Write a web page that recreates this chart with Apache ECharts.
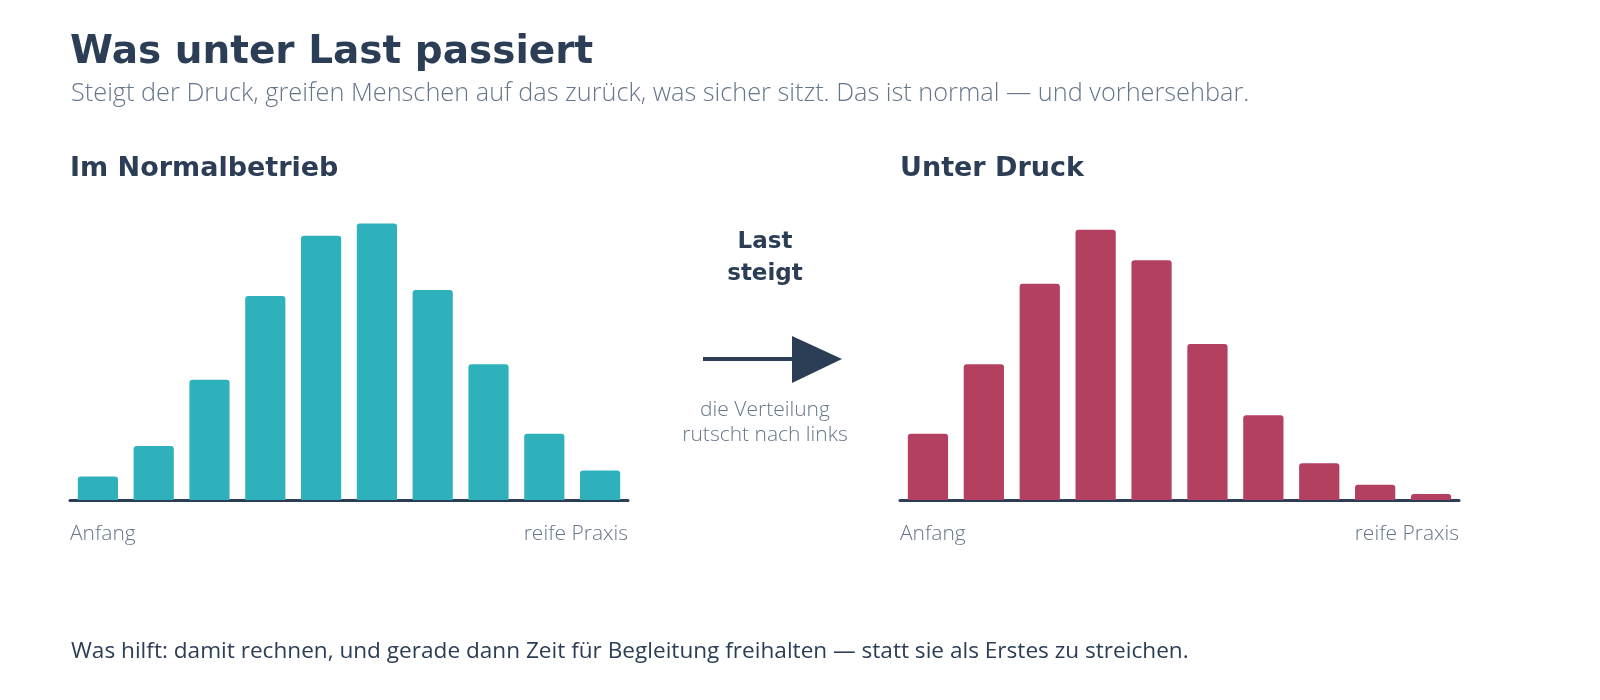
<!DOCTYPE html>
<html>
<head>
<meta charset="utf-8">
<title>Was unter Last passiert</title>
<script src="https://cdn.jsdelivr.net/npm/echarts@6/dist/echarts.min.js"></script>
<style>
  html, body { margin: 0; padding: 0; background: #fff; }
  #chart { width: 1600px; height: 700px; }
</style>
</head>
<body>
<div id="chart"></div>
<script>
// Stufen von "Anfang" bis "reife Praxis"
const stages = ['1', '2', '3', '4', '5', '6', '7', '8', '9', '10'];
const normalValues = [23, 53, 118, 200, 259, 271, 206, 133, 65, 29];
const pressureValues = [65, 133, 212, 265, 235, 153, 83, 36, 15, 6];
const axisEnds = ['Anfang', 'reife Praxis'];

const navy = '#2c3e55';
const grey = '#66768a';
const fontHead = '"DejaVu Sans", sans-serif';
const fontBody = '"Open Sans", sans-serif';

const chart = echarts.init(document.getElementById('chart'));

function xAxisFor(gridIndex) {
  return {
    type: 'category',
    gridIndex: gridIndex,
    data: stages,
    axisLine: { lineStyle: { color: navy, width: 3 } },
    axisTick: { show: false },
    axisLabel: { show: false }
  };
}

function yAxisFor(gridIndex) {
  return {
    type: 'value',
    gridIndex: gridIndex,
    min: 0,
    max: 300,
    show: false
  };
}

function endLabels(left, right) {
  return [
    { type: 'text', x: left, y: 524,
      style: { text: axisEnds[0], fill: grey, font: '300 21px ' + fontBody,
               textAlign: 'left', textVerticalAlign: 'top' } },
    { type: 'text', x: right, y: 524,
      style: { text: axisEnds[1], fill: grey, font: '300 21px ' + fontBody,
               textAlign: 'right', textVerticalAlign: 'top' } }
  ];
}

const options = {
  animation: false,
  title: [
    { text: 'Was unter Last passiert', left: 65, top: 28,
      textStyle: { color: navy, fontFamily: fontHead, fontWeight: 'bold', fontSize: 39 } },
    { text: 'Steigt der Druck, greifen Menschen auf das zurück, was sicher sitzt. Das ist normal — und vorhersehbar.',
      left: 66, top: 76,
      textStyle: { color: grey, fontFamily: fontBody, fontWeight: 300, fontSize: 25.3 } },
    { text: 'Im Normalbetrieb', left: 65, top: 150,
      textStyle: { color: navy, fontFamily: fontHead, fontWeight: 'bold', fontSize: 27 } },
    { text: 'Unter Druck', left: 895, top: 150,
      textStyle: { color: navy, fontFamily: fontHead, fontWeight: 'bold', fontSize: 27 } },
    { text: 'Was hilft: damit rechnen, und gerade dann Zeit für Begleitung freihalten — statt sie als Erstes zu streichen.',
      left: 66, top: 635,
      textStyle: { color: navy, fontFamily: fontBody, fontWeight: 'normal', fontSize: 22.6 } }
  ],
  grid: [
    { left: 70, width: 558, top: 194, height: 306 },
    { left: 900, width: 559, top: 194, height: 306 }
  ],
  xAxis: [xAxisFor(0), xAxisFor(1)],
  yAxis: [yAxisFor(0), yAxisFor(1)],
  series: [
    {
      type: 'bar', name: 'Im Normalbetrieb',
      xAxisIndex: 0, yAxisIndex: 0,
      data: normalValues,
      barCategoryGap: '28%',
      itemStyle: { color: '#2fb1bb', borderRadius: [3, 3, 0, 0] }
    },
    {
      type: 'bar', name: 'Unter Druck',
      xAxisIndex: 1, yAxisIndex: 1,
      data: pressureValues,
      barCategoryGap: '28%',
      itemStyle: { color: '#b34061', borderRadius: [3, 3, 0, 0] }
    }
  ],
  graphic: [
    ...endLabels(70, 628),
    ...endLabels(900, 1459),
    { type: 'text', x: 765, y: 226,
      style: { text: 'Last\nsteigt', fill: navy, font: 'bold 23px ' + fontHead,
               textAlign: 'center', textVerticalAlign: 'top', lineHeight: 32 } },
    { type: 'line', shape: { x1: 703, y1: 359, x2: 798, y2: 359 },
      style: { stroke: navy, lineWidth: 4 } },
    { type: 'polygon', shape: { points: [[792, 336], [842, 359], [792, 383]] },
      style: { fill: navy } },
    { type: 'text', x: 765, y: 398,
      style: { text: 'die Verteilung\nrutscht nach links', fill: grey,
               font: '300 21px ' + fontBody, textAlign: 'center',
               textVerticalAlign: 'top', lineHeight: 25 } }
  ]
};

chart.setOption(options);
</script>
</body>
</html>
